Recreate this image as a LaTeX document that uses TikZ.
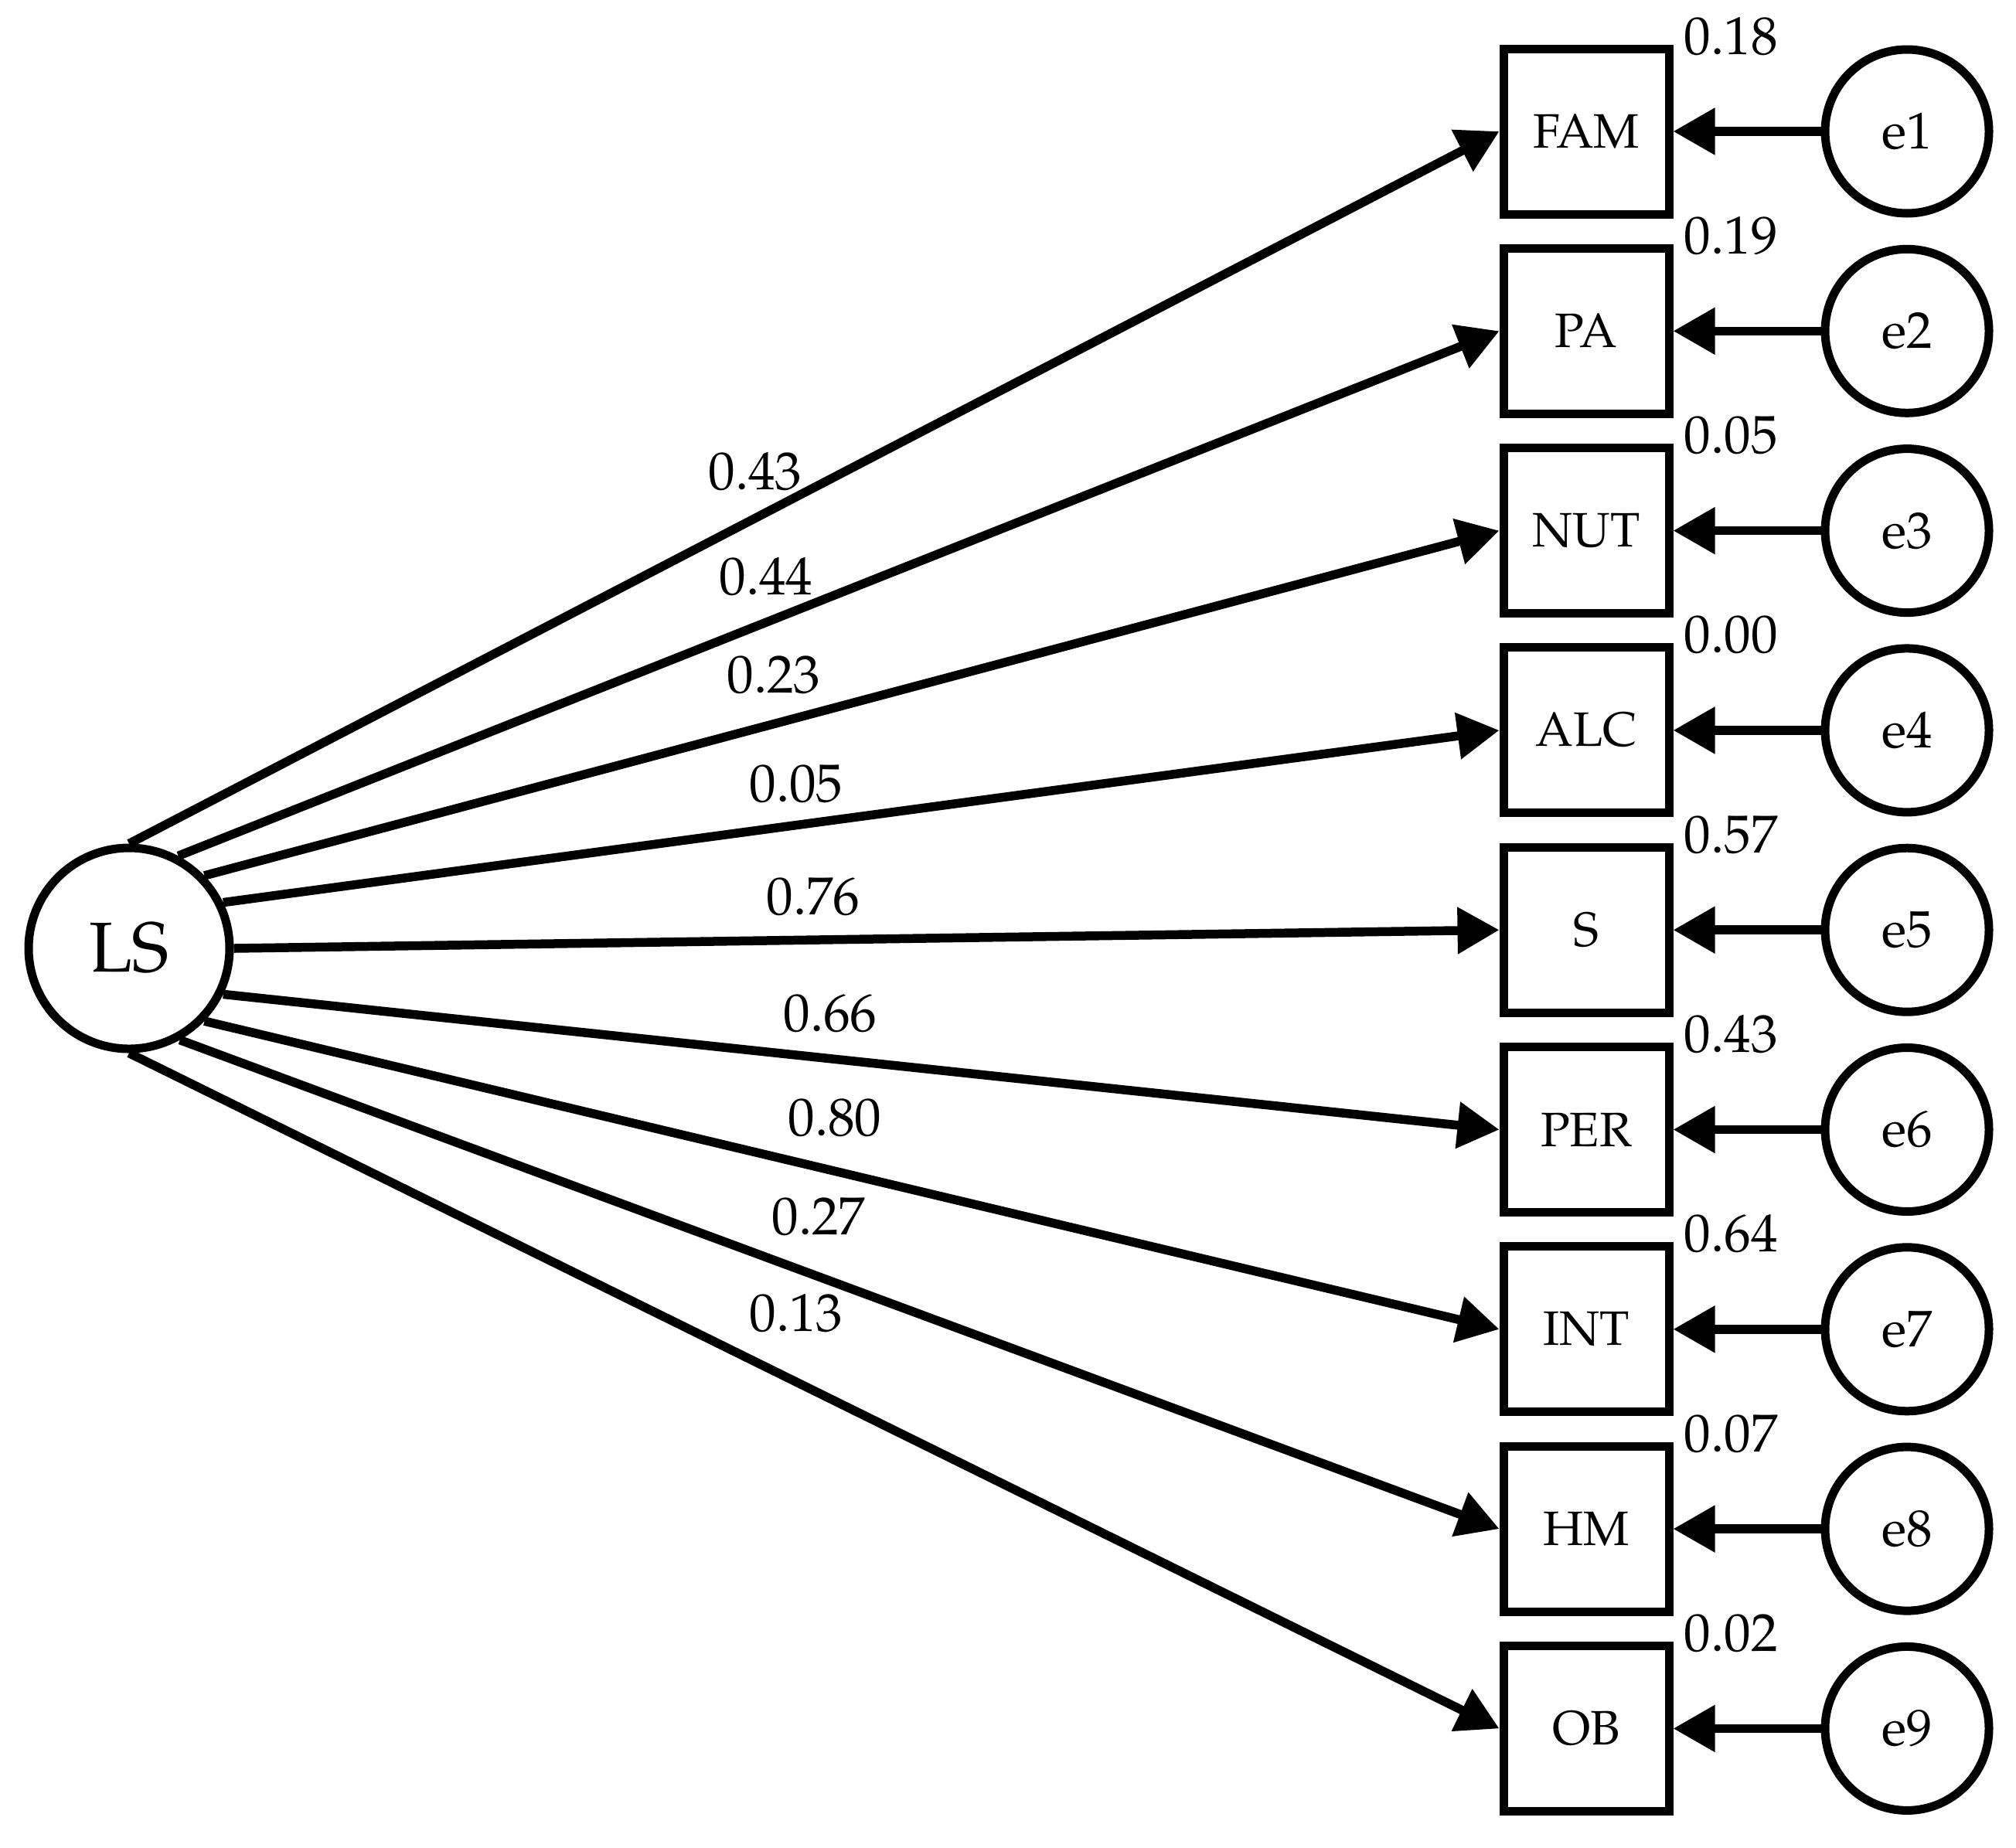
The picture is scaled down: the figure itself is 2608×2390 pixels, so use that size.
\documentclass[tikz,border=0pt]{standalone}
\usepackage[T1]{fontenc}
\usepackage{mathpazo}
\usepackage{tikz}
\usetikzlibrary{positioning}
\usetikzlibrary{arrows.meta}

\begin{document}
\begin{tikzpicture}[x=0.1mm,y=-0.1mm]
\tikzstyle{latent}=[circle, minimum size = 26mm, inner sep=0pt, line width=1.1mm, draw =black, font=\fontsize{26}{30}\selectfont]
\tikzstyle{obs}=[rectangle, minimum size = 21.4mm, inner sep=0pt, line width=1.1mm, draw =black, font=\fontsize{17.8}{20}\selectfont, node distance = 3.33mm]
\tikzstyle{err}=[circle, minimum size = 21.2mm, inner sep=0pt, line width=1.1mm, draw =black, font=\fontsize{19}{22}\selectfont, node distance = 19.1mm]
\tikzstyle{connect}=[-{Triangle[length=5.4mm,width=5.8mm]}, line width=1.15mm]
\tikzstyle{coef}=[inner sep=0pt, font=\fontsize{19.7}{24}\selectfont]
\tikzstyle{rsq}=[coef, anchor=base west, xshift=1.35mm, yshift=-1.25mm]
  \useasboundingbox (0,0) rectangle (2608,2390);
  \node[latent] (LS) at (167,1227) {LS};

  \node[obs] (FAM) at (2052,170) {FAM};
  \node[obs, below=of FAM] (PA) {PA};
  \node[obs, below=of PA] (NUT) {NUT};
  \node[obs, below=of NUT] (ALC) {ALC};
  \node[obs, below=of ALC] (S) {S};
  \node[obs, below=of S] (PER) {PER};
  \node[obs, below=of PER] (INT) {INT};
  \node[obs, below=of INT] (HM) {HM};
  \node[obs, below=of HM] (OB) {OB};

  \node[err, right=of FAM] (e1) {e1};
  \node[err, right=of PA] (e2) {e2};
  \node[err, right=of NUT] (e3) {e3};
  \node[err, right=of ALC] (e4) {e4};
  \node[err, right=of S] (e5) {e5};
  \node[err, right=of PER] (e6) {e6};
  \node[err, right=of INT] (e7) {e7};
  \node[err, right=of HM] (e8) {e8};
  \node[err, right=of OB] (e9) {e9};

  % explained variance
  \node[rsq] (r1) at (FAM.north east) {0.18};
  \node[rsq] (r2) at (PA.north east) {0.19};
  \node[rsq] (r3) at (NUT.north east) {0.05};
  \node[rsq] (r4) at (ALC.north east) {0.00};
  \node[rsq] (r5) at (S.north east) {0.57};
  \node[rsq] (r6) at (PER.north east) {0.43};
  \node[rsq] (r7) at (INT.north east) {0.64};
  \node[rsq] (r8) at (HM.north east) {0.07};
  \node[rsq] (r9) at (OB.north east) {0.02};

  \draw[connect] (LS.90) -- (FAM.west);
  \draw[connect] (LS.62) -- (PA.west);
  \draw[connect] (LS.44) -- (NUT.west);
  \draw[connect] (LS.26) -- (ALC.west);
  \draw[connect] (LS.0) -- (S.west);
  \draw[connect] (LS.-26) -- (PER.west);
  \draw[connect] (LS.-44) -- (INT.west);
  \draw[connect] (LS.-61) -- (HM.west);
  \draw[connect] (LS.-90) -- (OB.west);

  % loadings
  \node[coef] (w1) at (977,610) {0.43};
  \node[coef] (w2) at (991,746) {0.44};
  \node[coef] (w3) at (1001,873) {0.23};
  \node[coef] (w4) at (1030,1014) {0.05};
  \node[coef] (w5) at (1052,1160) {0.76};
  \node[coef] (w6) at (1074,1311) {0.66};
  \node[coef] (w7) at (1080,1446) {0.80};
  \node[coef] (w8) at (1059,1574) {0.27};
  \node[coef] (w9) at (1030,1699) {0.13};

  \path (e1) edge [connect] (FAM);
  \path (e2) edge [connect] (PA);
  \path (e3) edge [connect] (NUT);
  \path (e4) edge [connect] (ALC);
  \path (e5) edge [connect] (S);
  \path (e6) edge [connect] (PER);
  \path (e7) edge [connect] (INT);
  \path (e8) edge [connect] (HM);
  \path (e9) edge [connect] (OB);
\end{tikzpicture}
\end{document}
